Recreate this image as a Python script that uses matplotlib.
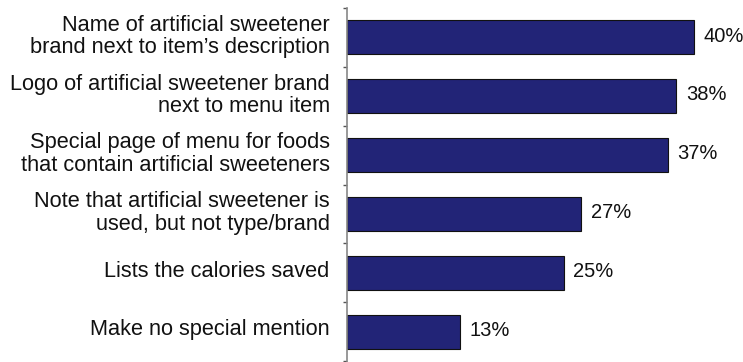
import matplotlib.pyplot as plt
from matplotlib.ticker import FixedLocator
from matplotlib.transforms import ScaledTranslation

plt.rcParams['font.family'] = ['Liberation Sans Narrow', 'Liberation Sans', 'DejaVu Sans']

# survey answers, top to bottom
labels = [
    "Name of artificial sweetener\nbrand next to item\u2019s description",
    "Logo of artificial sweetener brand\nnext to menu item",
    "Special page of menu for foods\nthat contain artificial sweeteners",
    "Note that artificial sweetener is\nused, but not type/brand",
    "Lists the calories saved",
    "Make no special mention",
]
percent = [40, 38, 37, 27, 25, 13]

fig = plt.figure(figsize=(7.43, 3.62), dpi=100)
ax = fig.add_axes([347 / 743, 1 / 362, 390 / 743, 353 / 362])

pos = list(range(len(labels)))
ax.barh(pos, percent, height=0.58, color='#222477', edgecolor='#111111', linewidth=0.8)

for p, v in zip(pos, percent):
    ax.annotate(f"{v}%", (v, p), xytext=(7, 1), textcoords='offset points',
                va='center', ha='left', fontsize=14.5, color='#111111')

ax.set_xlim(0, 45)
ax.set_ylim(len(labels) - 0.5, -0.5)

ax.set_yticks(pos)
ax.set_yticklabels(labels, fontsize=15.7, color='#111111', linespacing=1.08)
ax.tick_params(axis='y', which='major', length=0, pad=12.5)
# nudge the category labels up a little
shift = ScaledTranslation(0, 3 / 72, fig.dpi_scale_trans)
for t in ax.get_yticklabels():
    t.set_transform(t.get_transform() + shift)
ax.yaxis.set_minor_locator(FixedLocator([i - 0.5 for i in range(len(labels) + 1)]))
ax.tick_params(axis='y', which='minor', length=3, width=1, color='#555555', direction='out')
ax.set_xticks([])

for s in ['top', 'right', 'bottom']:
    ax.spines[s].set_visible(False)
ax.spines['left'].set_color('#888888')
ax.spines['left'].set_linewidth(1.2)

fig.savefig('out.png', dpi=100)
